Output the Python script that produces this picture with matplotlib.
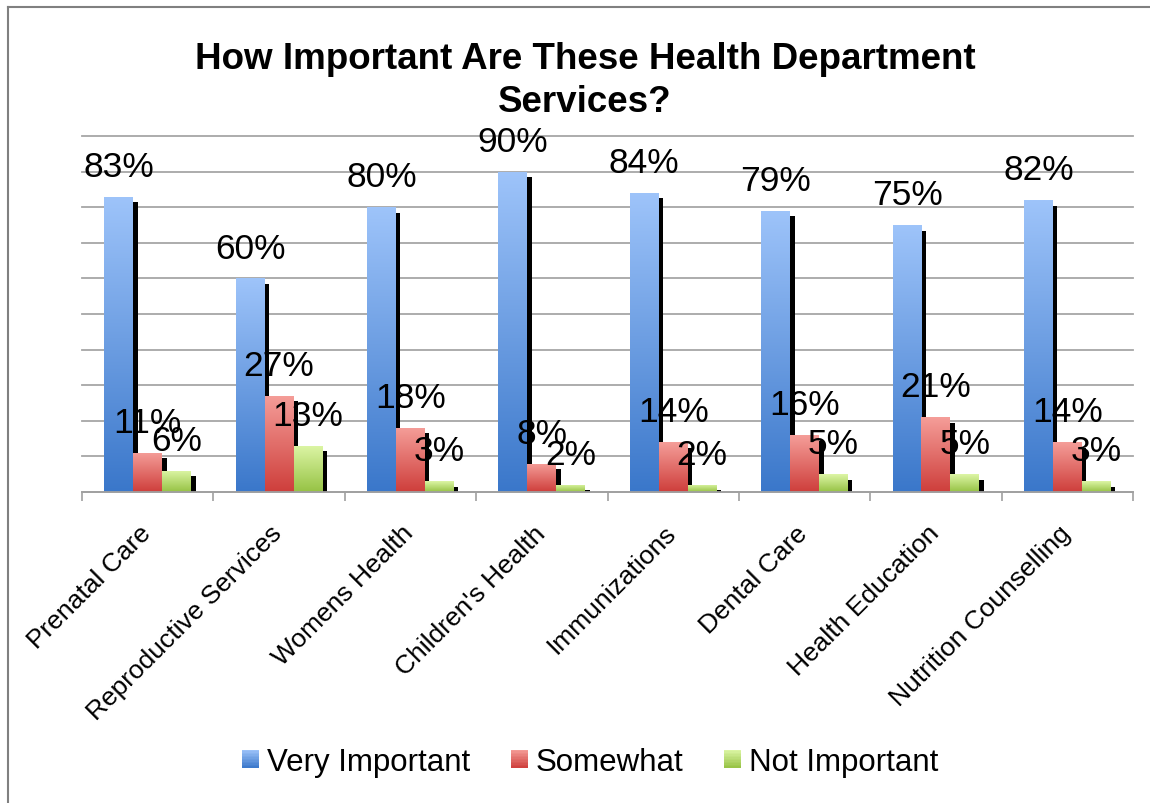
import matplotlib
matplotlib.use("Agg")
import matplotlib.pyplot as plt
import numpy as np
from matplotlib.patches import Rectangle
from matplotlib.lines import Line2D
from matplotlib.legend_handler import HandlerBase
from matplotlib.colors import LinearSegmentedColormap, to_rgb
from matplotlib.transforms import ScaledTranslation

plt.rcParams['font.family'] = ['Liberation Sans', 'DejaVu Sans']

# ---------------- data ----------------
categories = ["Prenatal Care", "Reproductive Services", "Womens Health", "Children's Health",
              "Immunizations", "Dental Care", "Health Education", "Nutrition Counselling"]
very_important = [83, 60, 80, 90, 84, 79, 75, 82]
somewhat = [11, 27, 18, 8, 14, 16, 21, 14]
not_important = [6, 13, 3, 2, 2, 5, 5, 3]
series_names = ["Very Important", "Somewhat", "Not Important"]
title_text = "How Important Are These Health Department\nServices?"

top_colors = ["#9EC4FA", "#F59E99", "#DDF6A6"]
bottom_colors = ["#3A77CA", "#CE3E3B", "#96C244"]

# ---------------- figure ----------------
W, H = 1150, 804
fig = plt.figure(figsize=(W / 100, H / 100), dpi=100)
ax = fig.add_axes([82 / W, 1 - 493 / H, (1133 - 82) / W, (493 - 137) / H])

x = np.arange(len(categories))
bw = 0.22
offsets = [-bw, 0.0, bw]
series = [very_important, somewhat, not_important]
px_per_unit_x = (1133 - 82) / len(categories)
px_per_unit_y = (493 - 137) / 100.0
shadow_dx = 4.5 / px_per_unit_x
shadow_dy = 5.5 / px_per_unit_y

# shadows
for i, vals in enumerate(series):
    ax.bar(x + offsets[i] + shadow_dx, np.array(vals) - shadow_dy, width=bw,
           color="black", zorder=2, linewidth=0)

grad = np.linspace(0, 1, 256).reshape(-1, 1)
for i, vals in enumerate(series):
    mid = tuple((np.array(to_rgb(top_colors[i])) + np.array(to_rgb(bottom_colors[i]))) / 2)
    bars = ax.bar(x + offsets[i], vals, width=bw, color=mid, zorder=3, linewidth=0)
    cmap = LinearSegmentedColormap.from_list("g%d" % i, [bottom_colors[i], top_colors[i]])
    for b in bars:
        x0, y0 = b.get_x(), b.get_y()
        w, h = b.get_width(), b.get_height()
        im = ax.imshow(grad, cmap=cmap, extent=(x0, x0 + w, y0, y0 + h), origin="lower",
                       aspect="auto", zorder=3.5, interpolation="bilinear")
        im.set_clip_path(b)

# value labels
for i, vals in enumerate(series):
    for xi, v in zip(x, vals):
        ax.annotate(f"{v}%", (xi + offsets[i], v), xytext=(0, 15), textcoords="offset points",
                    ha="center", va="baseline", fontsize=25.5, color="black", zorder=6)

ax.set_xlim(-0.5, len(categories) - 0.5)
ax.set_ylim(0, 100)

# axes styling
for s in ["left", "right", "top"]:
    ax.spines[s].set_visible(False)
ax.spines["bottom"].set_color("#A0A0A0")
ax.spines["bottom"].set_linewidth(1.3)
ax.spines["bottom"].set_zorder(4)

ax.set_yticks(np.arange(0, 101, 10))
ax.tick_params(axis="y", length=0, labelleft=False)
ax.yaxis.grid(True, color="#A6A6A6", linewidth=1.3)
ax.set_axisbelow(True)
for gl in ax.get_ygridlines():
    gl.set_clip_on(False)

ax.set_xticks(x)
ax.set_xticklabels(categories, rotation=45, ha="right", va="top", fontsize=19)
ax.tick_params(axis="x", which="major", length=0, pad=20.5)
ax.set_xticks(np.arange(-0.5, len(categories), 1), minor=True)
ax.tick_params(axis="x", which="minor", length=6.5, width=1.2, color="#A0A0A0", direction="out")
shift = ScaledTranslation(8 / 100, 0, fig.dpi_scale_trans)
for lab in ax.get_xticklabels():
    lab.set_transform(lab.get_transform() + shift)

# title (va='baseline' anchors the last line's baseline)
fig.text(585 / W, 1 - 112 / H, title_text, ha="center", va="baseline", fontsize=26.5,
         fontweight="bold", linespacing=1.3)


# legend with gradient squares
class GradHandler(HandlerBase):
    def __init__(self, c_top, c_bot):
        super().__init__()
        self.ct = np.array(to_rgb(c_top))
        self.cb = np.array(to_rgb(c_bot))

    def create_artists(self, legend, orig_handle, xdescent, ydescent, width, height, fontsize, trans):
        n = 12
        arts = []
        for k in range(n):
            f = (k + 0.5) / n
            col = (1 - f) * self.cb + f * self.ct
            r = Rectangle((-xdescent, -ydescent + height * k / n), width, height / n * 1.05,
                          facecolor=col, edgecolor="none", linewidth=0, transform=trans)
            arts.append(r)
        return arts


handles = [Rectangle((0, 0), 1, 1) for _ in series_names]
hmap = {h: GradHandler(top_colors[i], bottom_colors[i]) for i, h in enumerate(handles)}
fig.legend(handles, series_names, handler_map=hmap, loc="center",
           bbox_to_anchor=(590 / W, 1 - 763 / H), ncol=3, frameon=False, fontsize=22.5,
           handlelength=0.55, handleheight=0.5, handletextpad=0.25, columnspacing=1.3,
           borderpad=0)

# outer frame (left and top edges visible)
fig.add_artist(Line2D([7.5 / W, 7.5 / W], [0, 1 - 7.5 / H], transform=fig.transFigure,
                      color="#808080", linewidth=1.5))
fig.add_artist(Line2D([7.5 / W, 1], [1 - 7.5 / H, 1 - 7.5 / H], transform=fig.transFigure,
                      color="#808080", linewidth=1.5))

fig.savefig("out.png", dpi=100, facecolor="white")
